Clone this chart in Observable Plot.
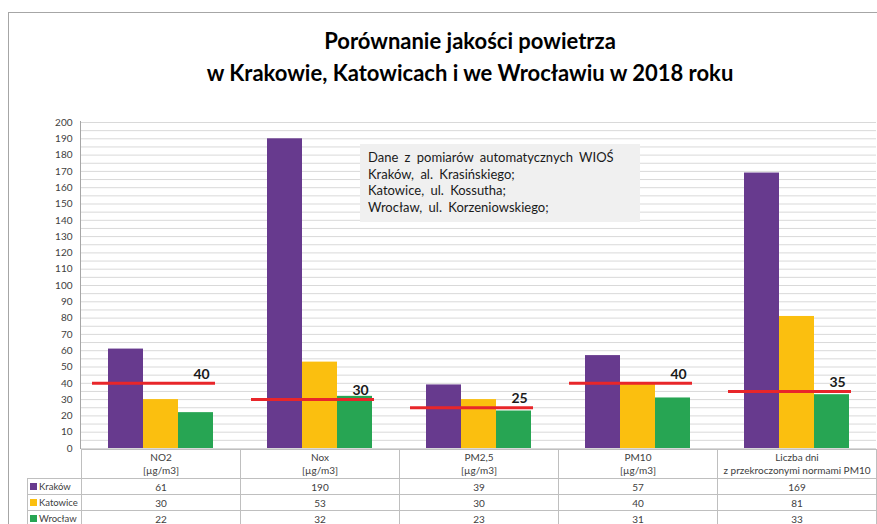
<!DOCTYPE html>
<html><head><meta charset="utf-8">
<script src="https://cdn.jsdelivr.net/npm/d3@7"></script>
<script src="https://cdn.jsdelivr.net/npm/@observablehq/plot@0.6"></script>
<style>
body{margin:0;overflow:hidden;background:#fff;font-family:Lato,"Open Sans",sans-serif;}
#wrap{position:relative;width:877px;height:524px;overflow:hidden;}
#frame{position:absolute;left:8px;top:12px;width:900px;height:600px;border-left:1px solid #a6a6a6;border-top:1px solid #a6a6a6;}
#title{position:absolute;left:0;top:25px;width:940px;text-align:center;font-weight:bold;font-size:22px;line-height:32px;color:#000;}
#chart{position:absolute;left:0;top:112px;}
#axisline{position:absolute;left:80px;top:121px;width:1px;height:328px;background:#a6a6a6;}
#note{position:absolute;left:360px;top:144px;width:280px;height:78px;background:#f0f0f0;padding:5px 0 0 8px;box-sizing:border-box;font-size:13px;line-height:16.6px;color:#1a1a1a;word-spacing:3px;}
#tbl{position:absolute;left:27px;top:449px;border-collapse:collapse;table-layout:fixed;width:850px;font-size:10px;color:#404040;}
#tbl td{border:1px solid #bfbfbf;text-align:center;padding:0;height:15px;line-height:14px;white-space:nowrap;overflow:visible;}
#tbl tr.head td{height:28px;line-height:13px;}
#tbl td.blank{border-left:none;border-top:none;}
#tbl td.leg{text-align:left;padding-left:2px;font-size:9.5px;}
.sw{display:inline-block;width:7px;height:7px;margin-right:2px;vertical-align:0px;}
</style></head>
<body><div id="wrap">
<div id="frame"></div>
<div id="title">Porównanie jakości powietrza<br>w Krakowie, Katowicach i we Wrocławiu w 2018 roku</div>
<div id="chart"></div>
<div id="axisline"></div>
<div id="note">Dane z pomiarów automatycznych WIOŚ<br>Kraków, al. Krasińskiego;<br>Katowice, ul. Kossutha;<br>Wrocław, ul. Korzeniowskiego;</div>
<table id="tbl"></table>
</div>
<script>
const categories = ["NO2","Nox","PM2,5","PM10","Liczba dni"];
const subLabels = ["[µg/m3]","[µg/m3]","[µg/m3]","[µg/m3]","z przekroczonymi normami PM10"];
const cities = ["Kraków","Katowice","Wrocław"];
const krakow = [61,190,39,57,169];
const katowice = [30,53,30,40,81];
const wroclaw = [22,32,23,31,33];
const limits = [40,30,25,40,35];
const colors = ["#673a8e","#fbbf0f","#27a553"];
const yTicks = d3.range(0,201,10);
const gridTicks = d3.range(0,201,5);

const series = [krakow, katowice, wroclaw];
const data = categories.flatMap((c,i)=>cities.map((city,j)=>({cat:c, city, value:series[j][i]})));
const limitData = categories.map((c,i)=>({cat:c, value:limits[i]}));

const chart = Plot.plot({
  width: 877, height: 346,
  marginLeft: 81, marginRight: 1, marginTop: 10, marginBottom: 10,
  style: {fontFamily: "Lato, 'Open Sans', sans-serif", background: "transparent"},
  fx: {domain: categories, padding: 0, axis: null},
  x: {domain: cities, paddingInner: 0, paddingOuter: 0.75, axis: null},
  y: {domain: [0,200], axis: null},
  color: {domain: cities, range: colors},
  marks: [
    Plot.gridY(gridTicks, {stroke: "#d9d9d9", strokeOpacity: 1}),
    Plot.barY(data, {fx: "cat", x: "city", y: "value", fill: "city"}),
    Plot.ruleY(limitData, {fx: "cat", y: "value", insetLeft: 11, insetRight: 25, stroke: "#e8262a", strokeWidth: 3}),
    Plot.text(limitData, {fx: "cat", y: "value", text: d => String(d.value), frameAnchor: "left", textAnchor: "middle", dx: 120, dy: -9, fontWeight: "bold", fontSize: 14, fill: "#1a1a1a"}),
    Plot.axisY(yTicks, {tickSize: 0, tickPadding: 9, fontSize: 10, fill: "#404040", label: null})
  ]
});
document.getElementById("chart").append(chart);

// table
const tbl = document.getElementById("tbl");
const cg = document.createElement("colgroup");
[54,159,159,159,159,159].forEach(w=>{const c=document.createElement("col");c.style.width=w+"px";cg.append(c);});
tbl.append(cg);
const head = document.createElement("tr"); head.className="head";
const b = document.createElement("td"); b.className="blank"; head.append(b);
categories.forEach((c,i)=>{const td=document.createElement("td"); td.innerHTML=c+"<br>"+subLabels[i]; head.append(td);});
tbl.append(head);
cities.forEach((city,j)=>{
  const tr=document.createElement("tr");
  const l=document.createElement("td"); l.className="leg";
  l.innerHTML=`<span class="sw" style="background:${colors[j]}"></span>${city}`;
  tr.append(l);
  series[j].forEach(v=>{const td=document.createElement("td"); td.textContent=v; tr.append(td);});
  tbl.append(tr);
});
</script>
</body></html>
